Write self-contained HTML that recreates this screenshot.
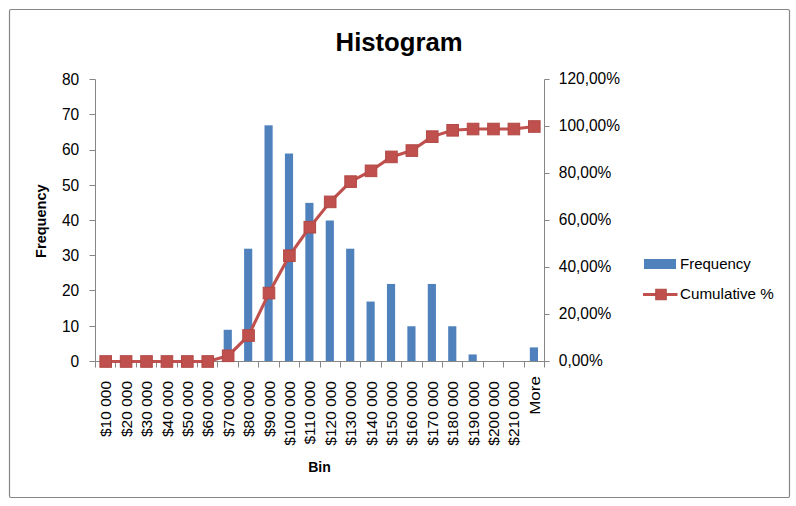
<!DOCTYPE html>
<html><head><meta charset="utf-8"><style>
html,body{margin:0;padding:0;background:#fff;}
body{width:796px;height:506px;overflow:hidden;font-family:"Liberation Sans",sans-serif;}
svg{display:block;}
</style></head><body>
<svg width="796" height="506" viewBox="0 0 796 506">
<rect x="9.5" y="9.5" width="780" height="488" rx="1.5" fill="#fff" stroke="#868686" stroke-width="1.2"/>
<text x="335.6" y="51" font-family="Liberation Sans, sans-serif" font-size="26.6" font-weight="bold" fill="#000" textLength="127" lengthAdjust="spacingAndGlyphs">Histogram</text>
<rect x="223.68" y="329.77" width="8.16" height="31.73" fill="#4F81BD"/>
<rect x="244.09" y="248.70" width="8.16" height="112.80" fill="#4F81BD"/>
<rect x="264.50" y="125.32" width="8.16" height="236.18" fill="#4F81BD"/>
<rect x="284.91" y="153.53" width="8.16" height="207.97" fill="#4F81BD"/>
<rect x="305.32" y="202.88" width="8.16" height="158.62" fill="#4F81BD"/>
<rect x="325.72" y="220.50" width="8.16" height="141.00" fill="#4F81BD"/>
<rect x="346.13" y="248.70" width="8.16" height="112.80" fill="#4F81BD"/>
<rect x="366.54" y="301.57" width="8.16" height="59.93" fill="#4F81BD"/>
<rect x="386.95" y="283.95" width="8.16" height="77.55" fill="#4F81BD"/>
<rect x="407.36" y="326.25" width="8.16" height="35.25" fill="#4F81BD"/>
<rect x="427.77" y="283.95" width="8.16" height="77.55" fill="#4F81BD"/>
<rect x="448.18" y="326.25" width="8.16" height="35.25" fill="#4F81BD"/>
<rect x="468.59" y="354.45" width="8.16" height="7.05" fill="#4F81BD"/>
<rect x="529.82" y="347.40" width="8.16" height="14.10" fill="#4F81BD"/>
<path d="M95.5 79.5 V361.5 M544.5 79.5 V361.5 M95.5 361.5 H544.5" stroke="#868686" stroke-width="1" fill="none"/>
<path d="M89.5 361.5 H95.5 M89.5 326.5 H95.5 M89.5 290.5 H95.5 M89.5 255.5 H95.5 M89.5 220.5 H95.5 M89.5 185.5 H95.5 M89.5 150.5 H95.5 M89.5 114.5 H95.5 M89.5 79.5 H95.5 M544.5 361.5 H549.5 M544.5 314.5 H549.5 M544.5 267.5 H549.5 M544.5 220.5 H549.5 M544.5 173.5 H549.5 M544.5 126.5 H549.5 M544.5 79.5 H549.5 M95.5 361.5 V367.5 M115.5 361.5 V367.5 M136.5 361.5 V367.5 M156.5 361.5 V367.5 M177.5 361.5 V367.5 M197.5 361.5 V367.5 M217.5 361.5 V367.5 M238.5 361.5 V367.5 M258.5 361.5 V367.5 M279.5 361.5 V367.5 M299.5 361.5 V367.5 M320.5 361.5 V367.5 M340.5 361.5 V367.5 M360.5 361.5 V367.5 M381.5 361.5 V367.5 M401.5 361.5 V367.5 M422.5 361.5 V367.5 M442.5 361.5 V367.5 M462.5 361.5 V367.5 M483.5 361.5 V367.5 M503.5 361.5 V367.5 M524.5 361.5 V367.5 M544.5 361.5 V367.5" stroke="#868686" stroke-width="1" fill="none"/>
<polyline points="105.70,361.50 126.11,361.50 146.52,361.50 166.93,361.50 187.34,361.50 207.75,361.50 228.16,355.80 248.57,335.53 268.98,293.09 289.39,255.72 309.80,227.21 330.20,201.88 350.61,181.61 371.02,170.84 391.43,156.90 411.84,150.57 432.25,136.63 452.66,130.30 473.07,129.03 493.48,129.03 513.89,129.03 534.30,126.50" fill="none" stroke="#C0504D" stroke-width="3.1" stroke-linejoin="round"/>
<rect x="99.90" y="355.70" width="11.60" height="11.60" fill="#C0504D" stroke="#B14845" stroke-width="1"/>
<rect x="120.31" y="355.70" width="11.60" height="11.60" fill="#C0504D" stroke="#B14845" stroke-width="1"/>
<rect x="140.72" y="355.70" width="11.60" height="11.60" fill="#C0504D" stroke="#B14845" stroke-width="1"/>
<rect x="161.13" y="355.70" width="11.60" height="11.60" fill="#C0504D" stroke="#B14845" stroke-width="1"/>
<rect x="181.54" y="355.70" width="11.60" height="11.60" fill="#C0504D" stroke="#B14845" stroke-width="1"/>
<rect x="201.95" y="355.70" width="11.60" height="11.60" fill="#C0504D" stroke="#B14845" stroke-width="1"/>
<rect x="222.36" y="350.00" width="11.60" height="11.60" fill="#C0504D" stroke="#B14845" stroke-width="1"/>
<rect x="242.77" y="329.73" width="11.60" height="11.60" fill="#C0504D" stroke="#B14845" stroke-width="1"/>
<rect x="263.18" y="287.29" width="11.60" height="11.60" fill="#C0504D" stroke="#B14845" stroke-width="1"/>
<rect x="283.59" y="249.92" width="11.60" height="11.60" fill="#C0504D" stroke="#B14845" stroke-width="1"/>
<rect x="304.00" y="221.41" width="11.60" height="11.60" fill="#C0504D" stroke="#B14845" stroke-width="1"/>
<rect x="324.40" y="196.08" width="11.60" height="11.60" fill="#C0504D" stroke="#B14845" stroke-width="1"/>
<rect x="344.81" y="175.81" width="11.60" height="11.60" fill="#C0504D" stroke="#B14845" stroke-width="1"/>
<rect x="365.22" y="165.04" width="11.60" height="11.60" fill="#C0504D" stroke="#B14845" stroke-width="1"/>
<rect x="385.63" y="151.10" width="11.60" height="11.60" fill="#C0504D" stroke="#B14845" stroke-width="1"/>
<rect x="406.04" y="144.77" width="11.60" height="11.60" fill="#C0504D" stroke="#B14845" stroke-width="1"/>
<rect x="426.45" y="130.83" width="11.60" height="11.60" fill="#C0504D" stroke="#B14845" stroke-width="1"/>
<rect x="446.86" y="124.50" width="11.60" height="11.60" fill="#C0504D" stroke="#B14845" stroke-width="1"/>
<rect x="467.27" y="123.23" width="11.60" height="11.60" fill="#C0504D" stroke="#B14845" stroke-width="1"/>
<rect x="487.68" y="123.23" width="11.60" height="11.60" fill="#C0504D" stroke="#B14845" stroke-width="1"/>
<rect x="508.09" y="123.23" width="11.60" height="11.60" fill="#C0504D" stroke="#B14845" stroke-width="1"/>
<rect x="528.50" y="120.70" width="11.60" height="11.60" fill="#C0504D" stroke="#B14845" stroke-width="1"/>
<text transform="translate(79.2 366.80) scale(1 1.07)" font-family="Liberation Sans, sans-serif" font-size="15.5" text-anchor="end" fill="#000000">0</text>
<text transform="translate(79.2 331.55) scale(1 1.07)" font-family="Liberation Sans, sans-serif" font-size="15.5" text-anchor="end" fill="#000000">10</text>
<text transform="translate(79.2 296.30) scale(1 1.07)" font-family="Liberation Sans, sans-serif" font-size="15.5" text-anchor="end" fill="#000000">20</text>
<text transform="translate(79.2 261.05) scale(1 1.07)" font-family="Liberation Sans, sans-serif" font-size="15.5" text-anchor="end" fill="#000000">30</text>
<text transform="translate(79.2 225.80) scale(1 1.07)" font-family="Liberation Sans, sans-serif" font-size="15.5" text-anchor="end" fill="#000000">40</text>
<text transform="translate(79.2 190.55) scale(1 1.07)" font-family="Liberation Sans, sans-serif" font-size="15.5" text-anchor="end" fill="#000000">50</text>
<text transform="translate(79.2 155.30) scale(1 1.07)" font-family="Liberation Sans, sans-serif" font-size="15.5" text-anchor="end" fill="#000000">60</text>
<text transform="translate(79.2 120.05) scale(1 1.07)" font-family="Liberation Sans, sans-serif" font-size="15.5" text-anchor="end" fill="#000000">70</text>
<text transform="translate(79.2 84.80) scale(1 1.07)" font-family="Liberation Sans, sans-serif" font-size="15.5" text-anchor="end" fill="#000000">80</text>
<text transform="translate(558.8 366.30) scale(1 1.07)" font-family="Liberation Sans, sans-serif" font-size="15.5" fill="#000000">0,00%</text>
<text transform="translate(558.8 319.30) scale(1 1.07)" font-family="Liberation Sans, sans-serif" font-size="15.5" fill="#000000">20,00%</text>
<text transform="translate(558.8 272.30) scale(1 1.07)" font-family="Liberation Sans, sans-serif" font-size="15.5" fill="#000000">40,00%</text>
<text transform="translate(558.8 225.30) scale(1 1.07)" font-family="Liberation Sans, sans-serif" font-size="15.5" fill="#000000">60,00%</text>
<text transform="translate(558.8 178.30) scale(1 1.07)" font-family="Liberation Sans, sans-serif" font-size="15.5" fill="#000000">80,00%</text>
<text transform="translate(558.8 131.30) scale(1 1.07)" font-family="Liberation Sans, sans-serif" font-size="15.5" fill="#000000">100,00%</text>
<text transform="translate(558.8 84.30) scale(1 1.07)" font-family="Liberation Sans, sans-serif" font-size="15.5" fill="#000000">120,00%</text>
<text transform="translate(111.30 381.00) rotate(-90)" x="0" y="0" font-family="Liberation Sans, sans-serif" font-size="15.5" text-anchor="end" fill="#000000">$10 000</text>
<text transform="translate(131.71 381.00) rotate(-90)" x="0" y="0" font-family="Liberation Sans, sans-serif" font-size="15.5" text-anchor="end" fill="#000000">$20 000</text>
<text transform="translate(152.12 381.00) rotate(-90)" x="0" y="0" font-family="Liberation Sans, sans-serif" font-size="15.5" text-anchor="end" fill="#000000">$30 000</text>
<text transform="translate(172.53 381.00) rotate(-90)" x="0" y="0" font-family="Liberation Sans, sans-serif" font-size="15.5" text-anchor="end" fill="#000000">$40 000</text>
<text transform="translate(192.94 381.00) rotate(-90)" x="0" y="0" font-family="Liberation Sans, sans-serif" font-size="15.5" text-anchor="end" fill="#000000">$50 000</text>
<text transform="translate(213.35 381.00) rotate(-90)" x="0" y="0" font-family="Liberation Sans, sans-serif" font-size="15.5" text-anchor="end" fill="#000000">$60 000</text>
<text transform="translate(233.76 381.00) rotate(-90)" x="0" y="0" font-family="Liberation Sans, sans-serif" font-size="15.5" text-anchor="end" fill="#000000">$70 000</text>
<text transform="translate(254.17 381.00) rotate(-90)" x="0" y="0" font-family="Liberation Sans, sans-serif" font-size="15.5" text-anchor="end" fill="#000000">$80 000</text>
<text transform="translate(274.58 381.00) rotate(-90)" x="0" y="0" font-family="Liberation Sans, sans-serif" font-size="15.5" text-anchor="end" fill="#000000">$90 000</text>
<text transform="translate(294.99 381.00) rotate(-90)" x="0" y="0" font-family="Liberation Sans, sans-serif" font-size="15.5" text-anchor="end" fill="#000000">$100 000</text>
<text transform="translate(315.40 381.00) rotate(-90)" x="0" y="0" font-family="Liberation Sans, sans-serif" font-size="15.5" text-anchor="end" fill="#000000">$110 000</text>
<text transform="translate(335.80 381.00) rotate(-90)" x="0" y="0" font-family="Liberation Sans, sans-serif" font-size="15.5" text-anchor="end" fill="#000000">$120 000</text>
<text transform="translate(356.21 381.00) rotate(-90)" x="0" y="0" font-family="Liberation Sans, sans-serif" font-size="15.5" text-anchor="end" fill="#000000">$130 000</text>
<text transform="translate(376.62 381.00) rotate(-90)" x="0" y="0" font-family="Liberation Sans, sans-serif" font-size="15.5" text-anchor="end" fill="#000000">$140 000</text>
<text transform="translate(397.03 381.00) rotate(-90)" x="0" y="0" font-family="Liberation Sans, sans-serif" font-size="15.5" text-anchor="end" fill="#000000">$150 000</text>
<text transform="translate(417.44 381.00) rotate(-90)" x="0" y="0" font-family="Liberation Sans, sans-serif" font-size="15.5" text-anchor="end" fill="#000000">$160 000</text>
<text transform="translate(437.85 381.00) rotate(-90)" x="0" y="0" font-family="Liberation Sans, sans-serif" font-size="15.5" text-anchor="end" fill="#000000">$170 000</text>
<text transform="translate(458.26 381.00) rotate(-90)" x="0" y="0" font-family="Liberation Sans, sans-serif" font-size="15.5" text-anchor="end" fill="#000000">$180 000</text>
<text transform="translate(478.67 381.00) rotate(-90)" x="0" y="0" font-family="Liberation Sans, sans-serif" font-size="15.5" text-anchor="end" fill="#000000">$190 000</text>
<text transform="translate(499.08 381.00) rotate(-90)" x="0" y="0" font-family="Liberation Sans, sans-serif" font-size="15.5" text-anchor="end" fill="#000000">$200 000</text>
<text transform="translate(519.49 381.00) rotate(-90)" x="0" y="0" font-family="Liberation Sans, sans-serif" font-size="15.5" text-anchor="end" fill="#000000">$210 000</text>
<text transform="translate(539.90 376.20) rotate(-90)" x="0" y="0" font-family="Liberation Sans, sans-serif" font-size="15.5" text-anchor="end" fill="#000000" textLength="38.5" lengthAdjust="spacingAndGlyphs">More</text>
<text x="308.2" y="472" font-family="Liberation Sans, sans-serif" font-size="15" font-weight="bold" fill="#000" textLength="22.6" lengthAdjust="spacingAndGlyphs">Bin</text>
<text transform="translate(45.8 257.9) rotate(-90)" font-family="Liberation Sans, sans-serif" font-size="15" font-weight="bold" fill="#000" textLength="73.5" lengthAdjust="spacingAndGlyphs">Frequency</text>
<rect x="644" y="259" width="32" height="10" fill="#4F81BD"/>
<text x="680" y="268.7" font-family="Liberation Sans, sans-serif" font-size="15" fill="#000000">Frequency</text>
<path d="M643 294.5 H677.5" stroke="#C0504D" stroke-width="2.8"/>
<rect x="655.75" y="289.25" width="10.5" height="10.5" fill="#C0504D" stroke="#B14845" stroke-width="1"/>
<text x="680" y="298.6" font-family="Liberation Sans, sans-serif" font-size="15" fill="#000000" textLength="93.8" lengthAdjust="spacingAndGlyphs">Cumulative %</text>
</svg>
</body></html>
